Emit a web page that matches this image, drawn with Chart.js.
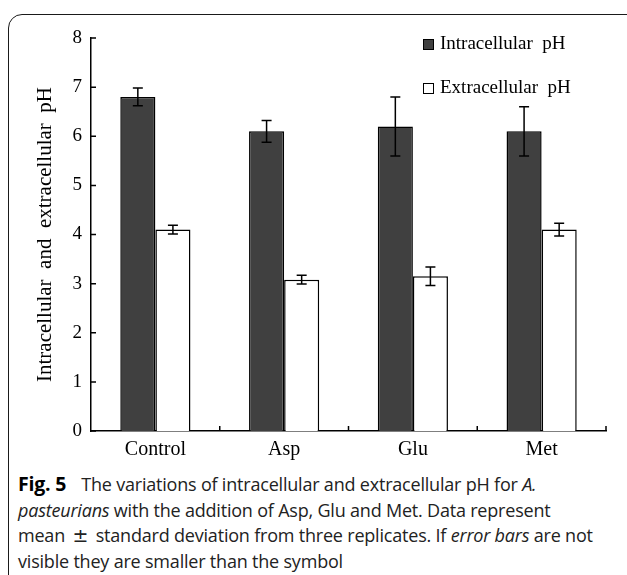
<!DOCTYPE html>
<html>
<head>
<meta charset="utf-8">
<script src="https://cdn.jsdelivr.net/npm/chart.js@4.4.1/dist/chart.umd.min.js"></script>
<style>
  html, body { margin: 0; padding: 0; background: #fff; width: 627px; height: 575px; overflow: hidden; }
  #frame { position: absolute; left: 8px; top: 14px; width: 640px; height: 620px; border: 1.5px solid #1a1a1a; border-radius: 14px; box-sizing: border-box; }
  #chart { position: absolute; left: 0; top: 0; }
  #caption { position: absolute; left: 18px; top: 471px; font-family: "Open Sans", sans-serif; font-size: 18px; line-height: 25.7px; color: #222; white-space: nowrap; letter-spacing: -0.2px; }
  #caption b { color: #000; font-size: 19.5px; margin-right: 6px; }
  #caption .pm { font-family: "DejaVu Sans", sans-serif; font-size: 19px; margin: 0 3px; }
</style>
</head>
<body>
<div id="frame"></div>
<canvas id="chart" width="627" height="470"></canvas>
<div id="caption">
  <b>Fig. 5</b>&nbsp; The variations of intracellular and extracellular pH for <i>A.</i><br>
  <i>pasteurians</i> with the addition of Asp, Glu and Met. Data represent<br>
  mean <span class="pm">&plusmn;</span> standard deviation from three replicates. If <i>error bars</i> are not<br>
  visible they are smaller than the symbol
</div>
<script>
// values
const categories = ["Control", "Asp", "Glu", "Met"];
const intraPH = [6.8, 6.1, 6.2, 6.1];
const intraSD = [0.18, 0.22, 0.6, 0.5];
const extraPH = [4.1, 3.08, 3.15, 4.1];
const extraSD = [0.09, 0.09, 0.19, 0.13];
const yMin = 0;
const yMax = 8;
const yStep = 1;

const serif = "'Liberation Serif', 'Times New Roman', serif";

// error bars drawn from the y scale
const errorBars = {
  id: "errorBars",
  afterDatasetsDraw(chart) {
    const ctx = chart.ctx;
    const y = chart.scales.y;
    chart.data.datasets.forEach((ds, i) => {
      const meta = chart.getDatasetMeta(i);
      meta.data.forEach((bar, j) => {
        const top = y.getPixelForValue(ds.data[j] + ds.sd[j]);
        const bot = y.getPixelForValue(ds.data[j] - ds.sd[j]);
        ctx.save();
        ctx.strokeStyle = "#000";
        ctx.lineWidth = 1.5;
        ctx.beginPath();
        ctx.moveTo(bar.x, top);
        ctx.lineTo(bar.x, bot);
        ctx.moveTo(bar.x - 5, top);
        ctx.lineTo(bar.x + 5, top);
        ctx.moveTo(bar.x - 5, bot);
        ctx.lineTo(bar.x + 5, bot);
        ctx.stroke();
        ctx.restore();
      });
    });
  },
};

// small inward tick marks like the original
const innerTicks = {
  id: "innerTicks",
  afterDraw(chart) {
    const ctx = chart.ctx;
    const { left, bottom } = chart.chartArea;
    const x = chart.scales.x;
    const y = chart.scales.y;
    ctx.save();
    ctx.strokeStyle = "#000";
    ctx.lineWidth = 1.5;
    ctx.beginPath();
    y.ticks.forEach((t) => {
      const py = y.getPixelForValue(t.value);
      ctx.moveTo(left, py);
      ctx.lineTo(left + 5, py);
    });
    const step = x.getPixelForValue(1) - x.getPixelForValue(0);
    categories.forEach((c, i) => {
      const px = x.getPixelForValue(i) + step / 2;
      ctx.moveTo(px, bottom);
      ctx.lineTo(px, bottom - 5);
    });
    ctx.stroke();
    ctx.restore();
  },
};

// legend inside the plot, top right
const boxLegend = {
  id: "boxLegend",
  afterDraw(chart, args, opts) {
    const ctx = chart.ctx;
    ctx.save();
    ctx.font = "19px " + serif;
    ctx.textBaseline = "middle";
    chart.data.datasets.forEach((ds, i) => {
      const cy = opts.y + i * opts.gap;
      ctx.fillStyle = ds.backgroundColor;
      ctx.fillRect(opts.x, cy - 5, 10, 10);
      ctx.strokeStyle = "#000";
      ctx.lineWidth = 1;
      ctx.strokeRect(opts.x + 0.5, cy - 4.5, 10, 10);
      ctx.fillStyle = "#000";
      ctx.fillText(ds.label, opts.x + 17, cy);
    });
    ctx.restore();
  },
};

new Chart(document.getElementById("chart"), {
  type: "bar",
  data: {
    labels: categories,
    datasets: [
      {
        label: "Intracellular  pH",
        data: intraPH,
        sd: intraSD,
        backgroundColor: "#404040",
        borderColor: "#000",
        borderWidth: 1.5,
      },
      {
        label: "Extracellular  pH",
        data: extraPH,
        sd: extraSD,
        backgroundColor: "#ffffff",
        borderColor: "#000",
        borderWidth: 1.5,
      },
    ],
  },
  options: {
    responsive: false,
    animation: false,
    barPercentage: 1,
    categoryPercentage: 0.545,
    layout: { padding: { top: 38, right: 21, bottom: 0, left: 0 } },
    scales: {
      x: {
        grid: { display: false, drawTicks: false },
        border: { display: true, color: "#000", width: 1.5 },
        ticks: { color: "#000", font: { family: serif, size: 20 }, padding: 7 },
        afterFit(scale) {
          scale.height = 39;
        },
      },
      y: {
        min: yMin,
        max: yMax,
        grid: { display: false, drawTicks: false },
        border: { display: true, color: "#000", width: 1.5 },
        ticks: { stepSize: yStep, color: "#000", font: { family: serif, size: 19 }, padding: 9 },
        title: {
          display: true,
          text: "Intracellular  and  extracellular  pH",
          color: "#000",
          font: { family: serif, size: 21 },
          padding: { top: 33, bottom: 0 },
        },
        afterFit(scale) {
          scale.width = 91;
        },
      },
    },
    plugins: {
      legend: { display: false },
      tooltip: { enabled: false },
      boxLegend: { x: 423, y: 44, gap: 44 },
    },
  },
  plugins: [errorBars, innerTicks, boxLegend],
});
</script>
</body>
</html>
